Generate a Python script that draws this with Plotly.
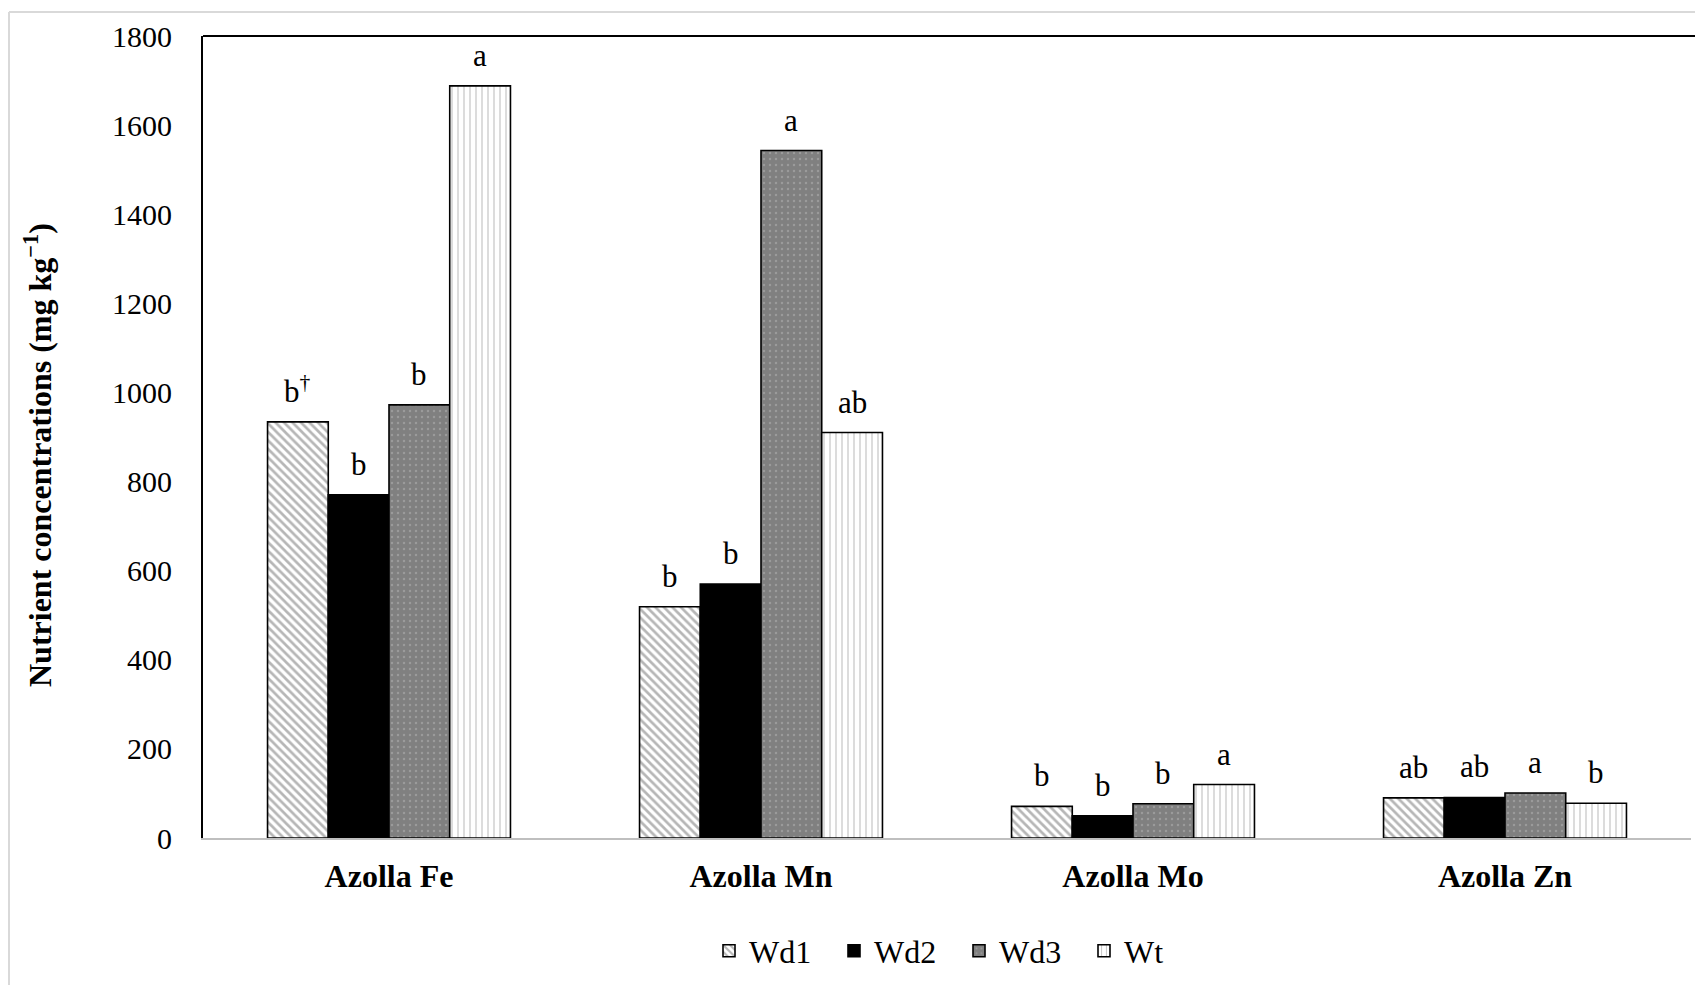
import plotly.graph_objects as go

categories = ["Azolla Fe", "Azolla Mn", "Azolla Mo", "Azolla Zn"]
series_names = ["Wd1", "Wd2", "Wd3", "Wt"]
wd1 = [934, 519, 71, 90]
wd2 = [770, 570, 50, 91]
wd3 = [972, 1543, 77, 101]
wt = [1688, 910, 120, 78]
labels_wd1 = ["b<sup>†</sup>", "b", "b", "ab"]
labels_wd2 = ["b", "b", "b", "ab"]
labels_wd3 = ["b", "a", "b", "a"]
labels_wt = ["a", "ab", "a", "b"]
y_ticks = [0, 200, 400, 600, 800, 1000, 1200, 1400, 1600, 1800]

values = [wd1, wd2, wd3, wt]
labels = [labels_wd1, labels_wd2, labels_wd3, labels_wt]

patterns = [
    dict(shape="\\", bgcolor="white", fgcolor="#6e6e6e", size=6, solidity=0.45),
    dict(shape="", bgcolor="black", fgcolor="black"),
    dict(shape=".", bgcolor="#808080", fgcolor="#b5b5b5", size=6, solidity=0.12),
    dict(shape="|", bgcolor="white", fgcolor="#8a8a8a", size=6, solidity=0.2),
]
fills = ["white", "black", "#808080", "white"]

FONT = "Liberation Serif, Times New Roman, serif"
W, H = 1695, 985
L, R, T, B = 203, 4, 36, 147
pw, ph = W - L - R, H - T - B
BARGAP = 0.347

fig = go.Figure()
for name, vals, pat, fc in zip(series_names, values, patterns, fills):
    fig.add_trace(go.Bar(
        name=name, x=categories, y=vals,
        marker=dict(color=fc, pattern=pat, line=dict(color="black", width=1.6)),
    ))

# letters above bars
n = len(series_names)
bw = (1 - BARGAP) / n
for si, (vals, labs) in enumerate(zip(values, labels)):
    off = (si - (n - 1) / 2) * bw
    for ci, (v, lab) in enumerate(zip(vals, labs)):
        fig.add_annotation(x=ci + off, y=v, xref="x", yref="y", text=lab,
                           showarrow=False, yanchor="bottom", yshift=11,
                           font=dict(family=FONT, size=31, color="black"))

def px_x(px):
    return (px - L) / pw

def px_y(py):
    return (H - B - py) / ph

# y-axis title
fig.add_annotation(x=px_x(38), y=px_y(455), xref="paper", yref="paper",
                   xanchor="center", yanchor="middle",
                   text="<b>Nutrient concentrations (mg kg<sup>−1</sup>)</b>",
                   textangle=-90, showarrow=False,
                   font=dict(family=FONT, size=32, color="black"))

# outer chart border (light grey) and plot area top line
fig.add_shape(type="line", xref="paper", yref="paper", x0=px_x(9), x1=px_x(9),
              y0=px_y(12), y1=px_y(990), line=dict(color="#d9d9d9", width=2))
fig.add_shape(type="line", xref="paper", yref="paper", x0=px_x(9), x1=px_x(1700),
              y0=px_y(12), y1=px_y(12), line=dict(color="#d9d9d9", width=2))
fig.add_shape(type="line", xref="paper", yref="paper", x0=0, x1=px_x(1700),
              y0=1, y1=1, line=dict(color="black", width=2))

fig.update_layout(
    width=W, height=H,
    margin=dict(l=L, r=R, t=T, b=B, pad=0),
    paper_bgcolor="white", plot_bgcolor="white",
    barmode="group", bargap=BARGAP, bargroupgap=0,
    font=dict(family=FONT, size=30, color="black"),
    showlegend=True,
    legend=dict(orientation="h", x=px_x(959), xanchor="center", y=px_y(951), yanchor="middle",
                font=dict(family=FONT, size=32), traceorder="normal",
                entrywidth=80, itemwidth=30, bgcolor="rgba(0,0,0,0)"),
    xaxis=dict(showgrid=False, showline=True, linecolor="#bfbfbf", linewidth=2,
               ticks="", tickfont=dict(family=FONT, size=32, color="black", weight="bold"),
               ticklabelstandoff=9, range=[-0.5, 3.5], zeroline=False),
    yaxis=dict(range=[0, 1800], tickvals=y_ticks, showgrid=False, zeroline=False,
               showline=True, linecolor="black", linewidth=2, ticks="",
               tickfont=dict(family=FONT, size=30, color="black"),
               ticklabelstandoff=23),
)

fig.write_html("out.html")
